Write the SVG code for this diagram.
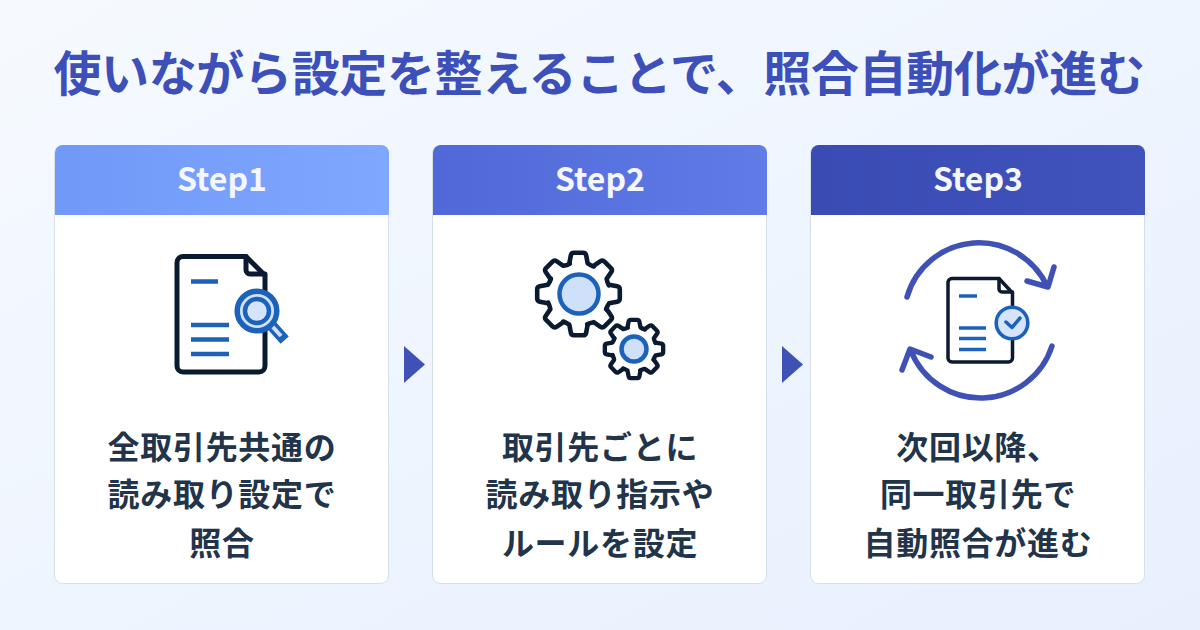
<svg xmlns="http://www.w3.org/2000/svg" xmlns:xlink="http://www.w3.org/1999/xlink" width="1200" height="630" viewBox="0 0 1200 630">
<style>
text{font-family:"Noto Sans CJK JP","Noto Sans",sans-serif;font-weight:700;text-anchor:middle}
.title{font-size:48px;fill:#3d4fb8;letter-spacing:-.35px}
.head{font-size:32px;fill:#f4f7ff}
.body{font-size:32px;fill:#22344a;letter-spacing:.7px}
.card{fill:#fff;stroke:#d6deea;stroke-width:1}
.ink{fill:none;stroke:#0a1a30;stroke-linejoin:round;stroke-linecap:round}
.line{stroke:#1c62bb}
.arc{fill:none;stroke:#3f51b5;stroke-width:5.500;stroke-linecap:round;stroke-linejoin:round}
.tri{fill:#3f51b5}
</style>
<defs>
<linearGradient id="bg" x1="0" y1="0" x2="1" y2="1"><stop offset="0" stop-color="#f6faff"/><stop offset="1" stop-color="#e8f0fe"/></linearGradient>
<linearGradient id="h1" x1="0" y1="0" x2="1" y2="0"><stop offset="0" stop-color="#7099f8"/><stop offset="1" stop-color="#7fa7ff"/></linearGradient>
<linearGradient id="h2" x1="0" y1="0" x2="1" y2="0"><stop offset="0" stop-color="#5068d8"/><stop offset="1" stop-color="#607ce6"/></linearGradient>
<linearGradient id="h3" x1="0" y1="0" x2="1" y2="0"><stop offset="0" stop-color="#3a4bb4"/><stop offset="1" stop-color="#4052bc"/></linearGradient>
<path id="t" d="M-9,-30L-7.500,-38Q-7,-40.500 -4.500,-40.500L4.500,-40.500Q7,-40.500 7.500,-38L9,-30Q12,-28 15,-27"/>
<g id="gear">
<use xlink:href="#t"/><use xlink:href="#t" transform="rotate(45)"/><use xlink:href="#t" transform="rotate(90)"/><use xlink:href="#t" transform="rotate(135)"/><use xlink:href="#t" transform="rotate(180)"/><use xlink:href="#t" transform="rotate(225)"/><use xlink:href="#t" transform="rotate(270)"/><use xlink:href="#t" transform="rotate(315)"/>
</g>
</defs>
<rect width="1200" height="630" fill="url(#bg)"/>
<text class="title" x="599" y="91">使いながら設定を整えることで、照合自動化が進む</text>

<g id="step1">
<rect class="card" x="54.500" y="145.500" width="334" height="438" rx="8"/>
<path d="M55,215V153a8,8 0 0 1 8,-8H381a8,8 0 0 1 8,8V215Z" fill="url(#h1)"/>
<text class="head" x="222" y="191">Step1</text>
<path class="ink" stroke-width="5" d="M183,256.500H246L265,275.500V366a6,6 0 0 1 -6,6H183a6,6 0 0 1 -6,-6V262.500a6,6 0 0 1 6,-6Z"/>
<path class="ink" stroke-width="5" d="M246,256.500V270a4,4 0 0 0 4,4H265"/>
<path class="line" stroke-width="4.500" fill="none" d="M191,281.500H218M191,325H229M191,339.500H229M191,354H229"/>
<path d="M272,326L281,336" stroke="#1c62bb" stroke-width="11" stroke-linecap="square"/>
<path d="M272,326L281,336" stroke="#cfe0fb" stroke-width="4"/>
<circle cx="257" cy="311" r="19.800" fill="#cfe0fb" stroke="#1c62bb" stroke-width="5.500"/>
<circle cx="257" cy="311" r="12" fill="#d6e4fb" stroke="#1c62bb" stroke-width="4.500"/>
<text class="body" x="222" y="459">全取引先共通の</text>
<text class="body" x="222" y="506">読み取り設定で</text>
<text class="body" x="222" y="555">照合</text>
</g>

<g id="step2">
<rect class="card" x="432.500" y="145.500" width="334" height="438" rx="8"/>
<path d="M433,215V153a8,8 0 0 1 8,-8H759a8,8 0 0 1 8,8V215Z" fill="url(#h2)"/>
<text class="head" x="600" y="191">Step2</text>
<use xlink:href="#gear" class="ink" stroke-width="4.500" transform="translate(578.500,294) scale(1.02)"/>
<circle cx="579" cy="294" r="19.500" fill="#cfe0fb" stroke="#1c62bb" stroke-width="4.500"/>
<use xlink:href="#gear" class="ink" stroke-width="6" transform="translate(634,349) scale(0.72)"/>
<circle cx="634" cy="349" r="12.500" fill="#cfe0fb" stroke="#1c62bb" stroke-width="4.500"/>
<text class="body" x="600" y="459">取引先ごとに</text>
<text class="body" x="600" y="506">読み取り指示や</text>
<text class="body" x="600" y="555">ルールを設定</text>
</g>

<g id="step3">
<rect class="card" x="810.500" y="145.500" width="334" height="438" rx="8"/>
<path d="M811,215V153a8,8 0 0 1 8,-8H1137a8,8 0 0 1 8,8V215Z" fill="url(#h3)"/>
<text class="head" x="978" y="191">Step3</text>
<path class="arc" d="M907,297A75,75 0 0 1 1047,286M1027,281L1048,287L1054,267"/>
<path class="arc" d="M1052,346A75,75 0 0 1 911,351M931,357L910,349L902,370"/>
<path class="ink" stroke-width="3.500" d="M952,278.500H999L1012.500,293V358a4,4 0 0 1 -4,4H952a4,4 0 0 1 -4,-4V282.500a4,4 0 0 1 4,-4Z"/>
<path class="ink" stroke-width="3.500" d="M999,278.500V289a3,3 0 0 0 3,3H1012.500"/>
<path class="line" stroke-width="3.500" fill="none" d="M959,296H977M959,328H986M959,338.500H986M959,349.500H986"/>
<circle cx="1012" cy="323" r="15.800" fill="#d6e4fb" stroke="#1c62bb" stroke-width="3.600"/>
<path d="M1006,322L1012,327.500L1020,318" fill="none" stroke="#1c62bb" stroke-width="3.500" stroke-linecap="round" stroke-linejoin="round"/>
<text class="body" x="978" y="459">次回以降、</text>
<text class="body" x="978" y="506">同一取引先で</text>
<text class="body" x="978" y="555">自動照合が進む</text>
</g>

<g id="connectors">
<path class="tri" d="M404,346L425,364.500L404,383Z"/>
<path class="tri" d="M782,346L803,364.500L782,383Z"/>
</g>
</svg>
